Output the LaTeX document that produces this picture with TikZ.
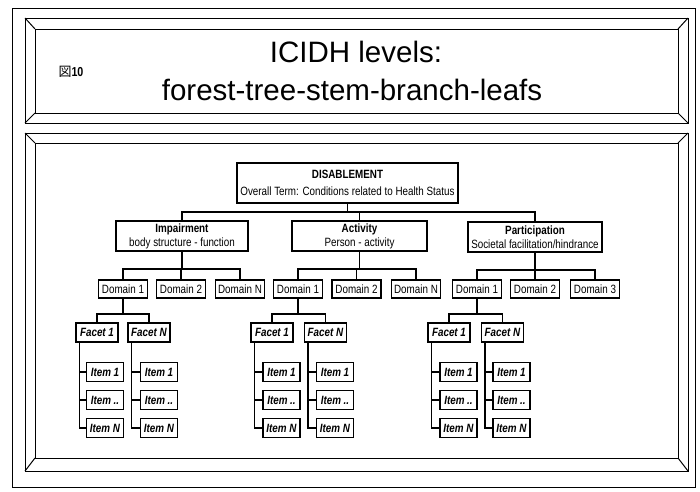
\documentclass[tikz,border=0pt]{standalone}
\usepackage{fontspec}
\setmainfont{Liberation Sans}
\newfontfamily\narrowfont[FakeStretch=0.82]{Liberation Sans}
\newfontfamily\cjkfont{Noto Sans CJK JP}
\begin{document}
\begin{tikzpicture}[x=1pt,y=-1pt,
  frame/.style={line width=1pt},
  bx/.style={draw, line width=1.1pt, inner sep=0pt, align=center,
    font=\narrowfont\fontsize{12}{14}\selectfont},
  topbox/.style={bx, minimum width=221pt, minimum height=40pt,
    font=\narrowfont\fontsize{12}{17}\selectfont},
  midbox/.style={bx, minimum height=30pt},
  dombox/.style={bx, minimum width=49pt, minimum height=18pt},
  facetbox/.style={bx, minimum width=42pt, minimum height=19pt,
    font=\narrowfont\fontsize{12}{14}\selectfont\bfseries\itshape},
  itembox/.style={bx, minimum width=37pt, minimum height=19pt,
    font=\narrowfont\fontsize{12}{14}\selectfont\bfseries\itshape},
  conn/.style={line width=1.1pt},
  title/.style={inner sep=0pt, anchor=base, font=\fontsize{29.5}{32}\selectfont}
]
\useasboundingbox (0,0) rectangle (700,491);
% outer thin border
\draw[line width=0.8pt] (12,8) rectangle (695,487);
% title panel (bevel)
\draw[frame] (25,18) rectangle (688,123);
\draw[frame] (35,29) rectangle (678,113);
\draw[frame] (25,18) -- (35,29) (688,18) -- (678,29) (25,123) -- (35,113) (688,123) -- (678,113);
% main panel (bevel)
\draw[frame] (25,133) rectangle (688,471);
\draw[frame] (35,143) rectangle (678,458);
\draw[frame] (25,133) -- (35,143) (688,133) -- (678,143) (25,471) -- (35,458) (688,471) -- (678,458);
% titles
\node[title] (t1) at (356,62) {ICIDH levels:};
\node[title] (t2) at (352,100) {forest-tree-stem-branch-leafs};
\node[inner sep=0pt, font=\fontsize{13}{14}\selectfont] (fig) at (71,72) {{\cjkfont 図}{\narrowfont\bfseries 10}};
% level 1
\node[topbox] (dis) at (347.5,183) {{\bfseries DISABLEMENT}\\Overall Term: Conditions related to Health Status};
% level 2
\node[midbox, minimum width=132pt] (imp) at (182,236) {{\bfseries Impairment}\\body structure - function};
\node[midbox, minimum width=135pt] (act) at (359.5,236) {{\bfseries Activity}\\Person - activity};
\node[midbox, minimum width=134pt] (par) at (535,237) {{\bfseries Participation}\\Societal facilitation/hindrance};
\draw[conn] (dis.south) -- (dis.south |- 0,212);
\draw[conn] (imp.north) |- (par.north |- 0,212) -- (par.north);
\draw[conn] (act.north) -- (act.north |- 0,212);
% domains
\node[dombox] (id1) at (123,289) {Domain 1};
\node[dombox] (id2) at (181,289) {Domain 2};
\node[dombox] (idn) at (240,289) {Domain N};
\node[dombox] (ad1) at (298,289) {Domain 1};
\node[dombox] (ad2) at (356.5,289) {Domain 2};
\node[dombox] (adn) at (416,289) {Domain N};
\node[dombox] (pd1) at (477,289) {Domain 1};
\node[dombox] (pd2) at (535,289) {Domain 2};
\node[dombox] (pd3) at (595,289) {Domain 3};
\draw[conn] (imp.south) -- (imp.south |- 0,269);
\draw[conn] (id1.north) |- (idn.north |- 0,269) -- (idn.north);
\draw[conn] (id2.north) -- (id2.north |- 0,269);
\draw[conn] (act.south) -- (act.south |- 0,269);
\draw[conn] (ad1.north) |- (adn.north |- 0,269) -- (adn.north);
\draw[conn] (ad2.north) -- (ad2.north |- 0,269);
\draw[conn] (par.south) -- (par.south |- 0,270);
\draw[conn] (pd1.north) |- (pd3.north |- 0,270) -- (pd3.north);
\draw[conn] (pd2.north) -- (pd2.north |- 0,270);
% facets
\node[facetbox] (if1) at (97,332.5) {Facet 1};
\node[facetbox] (ifn) at (149,332.5) {Facet N};
\node[facetbox] (af1) at (272,332.5) {Facet 1};
\node[facetbox] (afn) at (325.5,332.5) {Facet N};
\node[facetbox] (pf1) at (449,332.5) {Facet 1};
\node[facetbox] (pfn) at (502.5,332.5) {Facet N};
\foreach \d/\a/\b in {id1/if1/ifn, ad1/af1/afn, pd1/pf1/pfn} {
  \draw[conn] (\d.south) -- (\d.south |- 0,314);
  \draw[conn] (\a.north) |- (\b.north |- 0,314) -- (\b.north);
}
% items
\foreach \f/\ix in {if1/105, ifn/159, af1/281.5, afn/335, pf1/458.5, pfn/511.5} {
  \node[itembox] (\f-1) at (\ix,372) {Item 1};
  \node[itembox] (\f-2) at (\ix,400) {Item ..};
  \node[itembox] (\f-3) at (\ix,428) {Item N};
  \coordinate (\f-s) at ([xshift=4pt]\f.south west);
  \draw[conn] (\f-s) |- (\f-3.west);
  \draw[conn] (\f-s |- \f-1.west) -- (\f-1.west);
  \draw[conn] (\f-s |- \f-2.west) -- (\f-2.west);
}
\end{tikzpicture}
\end{document}
